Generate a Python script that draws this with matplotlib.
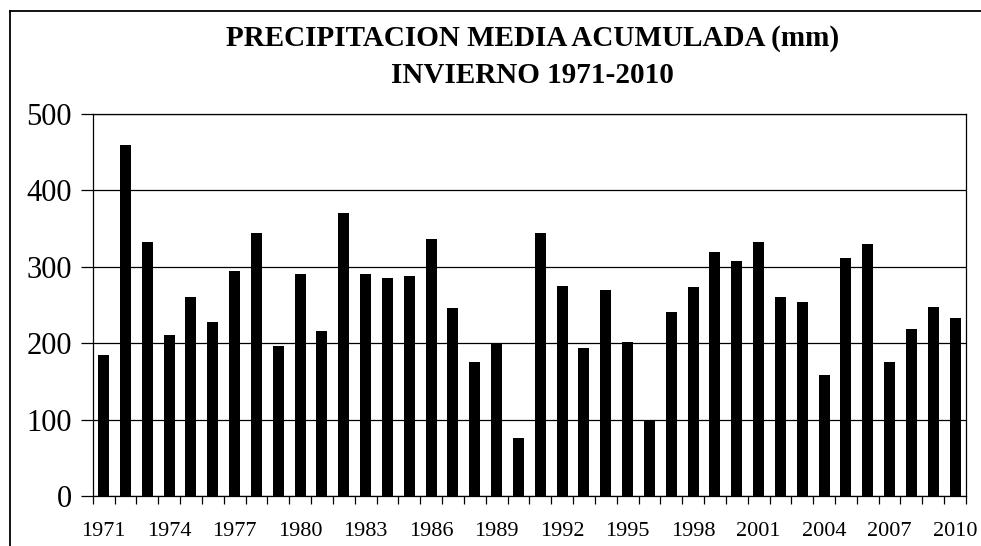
import matplotlib.pyplot as plt
from matplotlib.lines import Line2D

# winter accumulated mean precipitation (mm)
years = list(range(1971, 2011))
precip = [185, 460, 332, 211, 260, 228, 295, 344, 196, 290,
          216, 370, 290, 285, 288, 336, 246, 175, 199, 76,
          344, 275, 194, 270, 202, 98, 241, 273, 320, 307,
          332, 261, 254, 158, 312, 330, 175, 219, 248, 233]
label_years = years[::3]

plt.rcParams['font.family'] = ['Liberation Serif', 'DejaVu Serif']

fig = plt.figure(figsize=(9.81, 5.46), dpi=100)
ax = fig.add_axes([0.0945, 0.0916, 0.8902, 0.6996])

x = list(range(len(years)))
ax.bar(x, precip, width=0.5, color='black', zorder=3)

ax.set_xlim(-0.5, len(years) - 0.5)
ax.set_ylim(0, 500)
ax.set_yticks(range(0, 501, 100))
ax.yaxis.grid(True, color='black', linewidth=0.9, zorder=0)
ax.tick_params(axis='y', labelsize=22, length=9, width=0.9, pad=6)

# tick marks at the category boundaries, labels under every third bar
ax.set_xticks([i - 0.5 for i in range(len(years) + 1)])
ax.set_xticklabels([])
ax.tick_params(axis='x', which='major', length=6, width=0.9)
ax.set_xticks([years.index(y) for y in label_years], minor=True)
ax.set_xticklabels([str(y) for y in label_years], minor=True)
ax.tick_params(axis='x', which='minor', length=0, labelsize=16, pad=19)

for s in ax.spines.values():
    s.set_linewidth(0.9)
    s.set_color('black')

fig.text(0.543, 0.93, 'PRECIPITACION MEDIA ACUMULADA (mm)', ha='center', va='center',
         fontsize=21, fontweight='bold')
fig.text(0.543, 0.862, 'INVIERNO 1971-2010', ha='center', va='center',
         fontsize=21, fontweight='bold')

# outer chart frame (left and top edges visible)
fig.add_artist(Line2D([0.0097, 0.0097], [0, 0.98], color='black', linewidth=1.3,
                      transform=fig.transFigure))
fig.add_artist(Line2D([0.0097, 1.0], [0.98, 0.98], color='black', linewidth=1.3,
                      transform=fig.transFigure))

fig.savefig('out.png', dpi=100)
